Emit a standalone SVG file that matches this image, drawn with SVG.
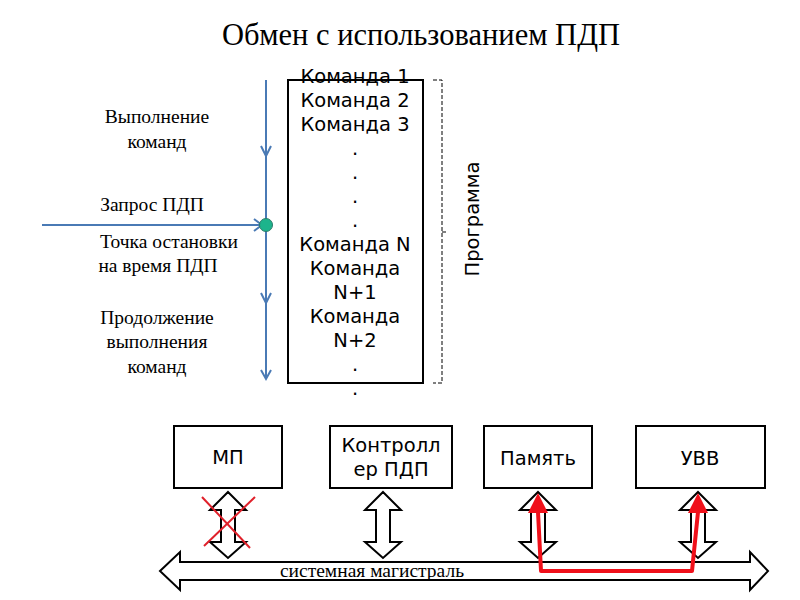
<svg xmlns="http://www.w3.org/2000/svg" width="800" height="600" viewBox="0 0 800 600">
<style>
.serif{font-family:"Liberation Serif","Times New Roman",serif;fill:#000}
.sans{font-family:"DejaVu Sans",sans-serif;fill:#000}
.box{fill:#fff;stroke:#000;stroke-width:2}
.blue{stroke:#4a7ab5;stroke-width:2;fill:none}
.darr{fill:#fff;stroke:#000;stroke-width:2;stroke-linejoin:miter}
</style>
<defs>
<path id="dbl" d="M0,492 L18,510 L7,510 L7,542 L18,542 L0,558 L-18,542 L-7,542 L-7,510 L-18,510 Z"/>
</defs>
<rect width="800" height="600" fill="#fff"/>
<text class="serif" x="421" y="45" font-size="30.5" text-anchor="middle">Обмен с использованием ПДП</text>

<g id="timeline">
<line class="blue" x1="266" y1="80" x2="266" y2="378"/>
<line class="blue" x1="42" y1="225" x2="262" y2="225"/>
<polyline class="blue" points="261,146 266,156 271,146"/>
<polyline class="blue" points="261,293 266,303 271,293"/>
<polyline class="blue" points="261,370 266,379 271,370"/>
<polyline class="blue" points="254,219 262,225 254,231"/>
<circle cx="266" cy="225" r="6.5" fill="#1db48c" stroke="#2a7a6a" stroke-width="1"/>
</g>
<g id="labels-left" class="serif" font-size="19.5" text-anchor="middle">
<text x="157" y="123">Выполнение</text>
<text x="157" y="148">команд</text>
<text x="152" y="211">Запрос ПДП</text>
<text x="169" y="248">Точка остановки</text>
<text x="158" y="272">на время ПДП</text>
<text x="157" y="324">Продолжение</text>
<text x="157" y="348">выполнения</text>
<text x="157" y="373">команд</text>
</g>

<g id="program">
<rect class="box" x="288" y="80" width="135" height="303" fill="none"/>
<g class="sans" font-size="19.5" text-anchor="middle">
<text x="355" y="83">Команда 1</text>
<text x="355" y="107">Команда 2</text>
<text x="355" y="131">Команда 3</text>
<text x="355" y="155">.</text>
<text x="355" y="179">.</text>
<text x="355" y="203">.</text>
<text x="355" y="227">.</text>
<text x="355" y="251">Команда N</text>
<text x="355" y="275">Команда</text>
<text x="355" y="299">N+1</text>
<text x="355" y="323">Команда</text>
<text x="355" y="347">N+2</text>
<text x="355" y="371">.</text>
<text x="355" y="395">.</text>
</g>
</g>

<g id="brace">
<path d="M433,80 L442,80 L442,383 L433,383" fill="none" stroke="#000" stroke-width="1" stroke-dasharray="4,2"/>
<line x1="442" y1="232" x2="446" y2="232" stroke="#000" stroke-width="1"/>
<text class="sans" font-size="19.5" text-anchor="middle" transform="translate(479,219) rotate(-90)">Программа</text>
</g>

<g id="mp"><rect class="box" x="174" y="426" width="108" height="62"/><text class="sans" font-size="19.5" x="228" y="464" text-anchor="middle">МП</text></g>
<g id="ctrl"><rect class="box" x="330" y="426" width="122" height="62"/><text class="sans" font-size="19.5" x="391" y="452" text-anchor="middle">Контролл</text><text class="sans" font-size="19.5" x="391" y="476" text-anchor="middle">ер ПДП</text></g>
<g id="mem"><rect class="box" x="484" y="426" width="108" height="62"/><text class="sans" font-size="19.5" x="538" y="465" text-anchor="middle">Память</text></g>
<g id="uvv"><rect class="box" x="636" y="426" width="129" height="62"/><text class="sans" font-size="19.5" x="700" y="465" text-anchor="middle">УВВ</text></g>

<g id="connectors">
<use href="#dbl" class="darr" transform="translate(228,0)"/>
<use href="#dbl" class="darr" transform="translate(383,0)"/>
<use href="#dbl" class="darr" transform="translate(538,0)"/>
<use href="#dbl" class="darr" transform="translate(698,0)"/>
<path class="darr" d="M160,571 L180,552 L180,562 L750,562 L750,552 L768,571 L750,590 L750,580 L180,580 L180,590 Z"/>
<line x1="202" y1="497" x2="250" y2="548" stroke="#e0202a" stroke-width="2"/>
<line x1="255" y1="497" x2="204" y2="546" stroke="#e0202a" stroke-width="2"/>
<path d="M538,512 L541,571 L692,571 L698,512" fill="none" stroke="#f0101a" stroke-width="4" stroke-linejoin="round"/>
<polygon points="538,493 548,513 528,513" fill="#f0101a"/>
<polygon points="698,493 708,513 688,513" fill="#f0101a"/>
</g>
<text class="serif" font-size="19.5" x="372" y="577" text-anchor="middle">системная магистраль</text>
</svg>
